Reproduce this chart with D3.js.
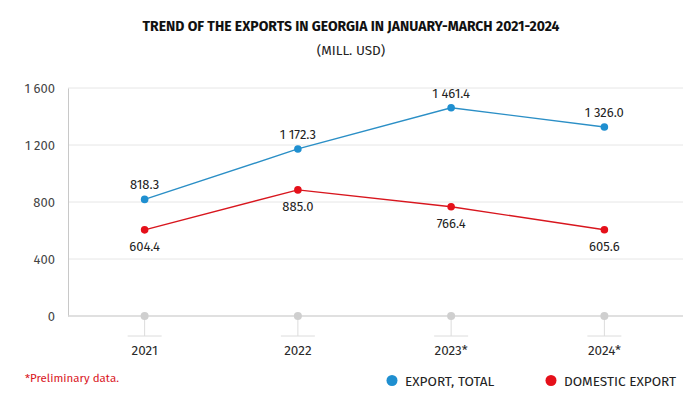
<!DOCTYPE html>
<html><head><meta charset="utf-8">
<script src="https://cdn.jsdelivr.net/npm/d3@7"></script>
<style>body{margin:0;background:#fff}svg{display:block}text{font-family:"Fira Sans","Open Sans","Noto Sans",sans-serif}</style>
</head><body><svg id="c" width="700" height="406"></svg>
<script>
const years = ["2021","2022","2023*","2024*"];
const exportTotal = [818.3, 1172.3, 1461.4, 1326.0];
const domesticExport = [604.4, 885.0, 766.4, 605.6];
const yTicks = [0, 400, 800, 1200, 1600];
const seriesNames = ["EXPORT, TOTAL", "DOMESTIC EXPORT"];

const svg = d3.select("#c");
const L = 68, R = 681, T = 88, B = 316;
const x = d3.scalePoint().domain(years).range([L, R]).padding(0.5);
const y = d3.scaleLinear().domain([0, 1600]).range([B, T]);
const fmtTick = v => d3.format(",")(v).replace(/,/g, " ");
const fmtVal = v => d3.format(",.1f")(v).replace(/,/g, " ");

svg.append("text").attr("x", 351).attr("y", 31).attr("text-anchor", "middle")
  .attr("font-size", 14).attr("font-weight", "bold").attr("fill", "#111")
  .attr("textLength", 417).attr("lengthAdjust", "spacingAndGlyphs")
  .text("TREND OF THE EXPORTS IN GEORGIA IN JANUARY-MARCH 2021-2024");
svg.append("text").attr("x", 351).attr("y", 55).attr("text-anchor", "middle")
  .attr("font-size", 13.5).attr("fill", "#222").text("(MILL. USD)");

// grid
svg.append("g").selectAll("line").data(yTicks.filter(d => d > 0)).join("line")
  .attr("x1", L).attr("x2", 683).attr("y1", d => y(d)).attr("y2", d => y(d))
  .attr("stroke", "#e6e6e6").attr("stroke-width", 1);
// y axis
const ya = svg.append("g").attr("transform", `translate(${L},0)`)
  .call(d3.axisLeft(y).tickValues(yTicks).tickFormat(fmtTick).tickSize(0).tickPadding(13));
ya.select(".domain").attr("stroke", "#c8c8c8");
ya.selectAll("text").attr("font-size", 13).attr("fill", "#444")
  .style("font-family", '"Fira Sans","Open Sans","Noto Sans",sans-serif');
// baseline
svg.append("line").attr("x1", L).attr("x2", 683).attr("y1", y(0)).attr("y2", y(0))
  .attr("stroke", "#d6d6d6").attr("stroke-width", 1.5);
// x ticks
const xt = svg.append("g");
xt.selectAll("line.v").data(years).join("line").attr("class", "v")
  .attr("x1", d => x(d)).attr("x2", d => x(d)).attr("y1", y(0)).attr("y2", 336)
  .attr("stroke", "#dcdcdc");
xt.selectAll("line.h").data(years).join("line").attr("class", "h")
  .attr("x1", d => x(d) - 17).attr("x2", d => x(d) + 17).attr("y1", 336).attr("y2", 336)
  .attr("stroke", "#dcdcdc");
xt.selectAll("circle").data(years).join("circle")
  .attr("cx", d => x(d)).attr("cy", y(0)).attr("r", 4).attr("fill", "#cfcfcf");
xt.selectAll("text").data(years).join("text")
  .attr("x", d => x(d)).attr("y", 355).attr("text-anchor", "middle")
  .attr("font-size", 13.5).attr("fill", "#2a2a2a").text(d => d);

const series = [
  {vals: exportTotal, line: "#2b8fc6", dot: "#1f8fd0", above: true},
  {vals: domesticExport, line: "#d8161e", dot: "#e5101a", above: false}
];
series.forEach(s => {
  const pts = years.map((yr, i) => [yr, s.vals[i]]);
  svg.append("path").datum(pts)
    .attr("d", d3.line().x(d => x(d[0])).y(d => y(d[1])))
    .attr("fill", "none").attr("stroke", s.line).attr("stroke-width", 1.4);
  svg.append("g").selectAll("circle").data(pts).join("circle")
    .attr("cx", d => x(d[0])).attr("cy", d => y(d[1])).attr("r", 3.8).attr("fill", s.dot);
  svg.append("g").selectAll("text").data(pts).join("text")
    .attr("x", d => x(d[0])).attr("y", d => y(d[1]) + (s.above ? -10 : 21))
    .attr("text-anchor", "middle").attr("font-size", 13).attr("fill", "#222")
    .text(d => fmtVal(d[1]));
});

svg.append("text").attr("x", 25).attr("y", 382).attr("font-size", 11.5).attr("fill", "#d9141c")
  .text("*Preliminary data.");
const leg = [{n: seriesNames[0], c: "#1f8fd0", x: 392}, {n: seriesNames[1], c: "#e5101a", x: 551}];
leg.forEach(l => {
  svg.append("circle").attr("cx", l.x).attr("cy", 380.5).attr("r", 5.5).attr("fill", l.c);
  svg.append("text").attr("x", l.x + 13).attr("y", 385.5).attr("font-size", 13.6).attr("fill", "#222").text(l.n);
});
</script></body></html>
